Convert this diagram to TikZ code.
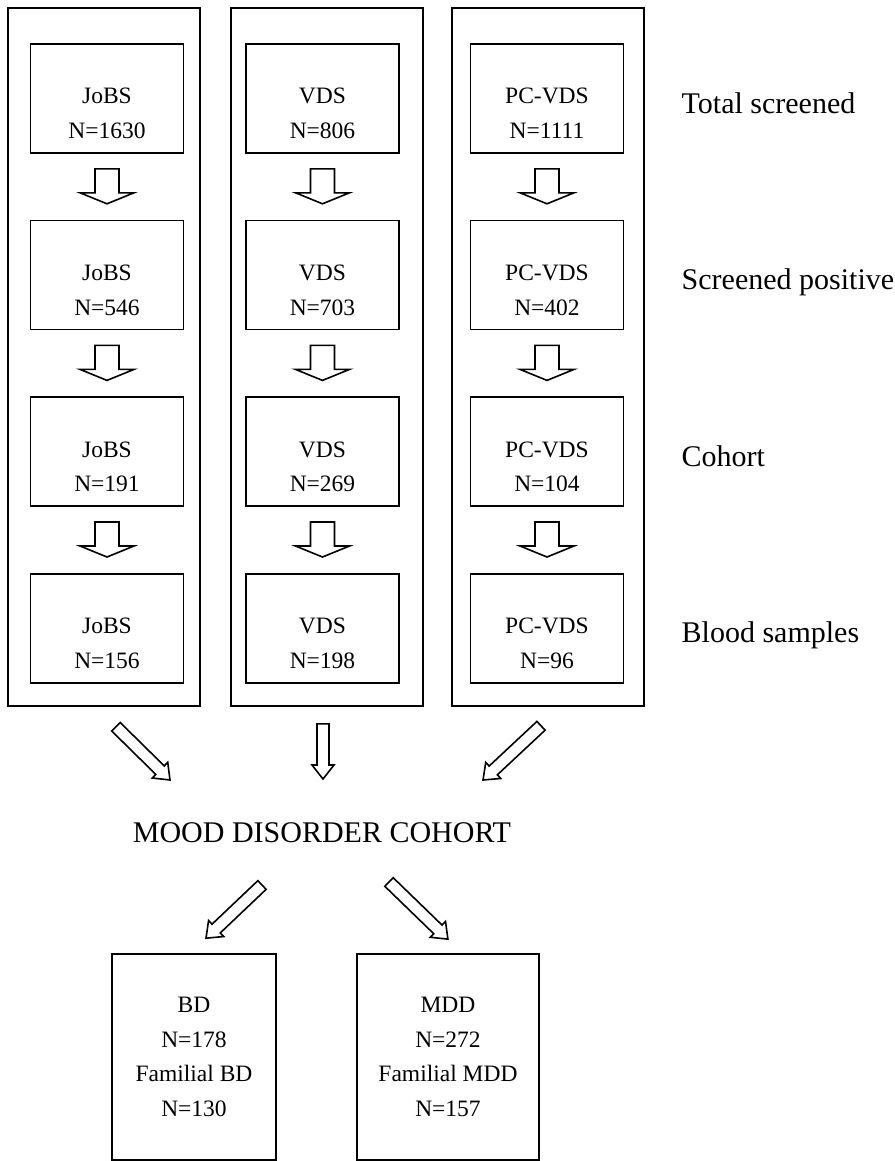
\documentclass[tikz,border=0pt]{standalone}
\usepackage{fontspec}
\setmainfont{Liberation Serif}
\usetikzlibrary{calc,positioning}
\tikzset{
    column-box/.style = {draw, line width=0.8pt, minimum width=96pt, minimum height=349pt, inner sep=0pt},
    stage-box/.style = {draw, line width=0.8pt, minimum width=76.5pt, minimum height=54.5pt, inner sep=0pt, align=center, font=\fontsize{11.75}{17.25}\selectfont},
    group-box/.style = {draw, line width=0.8pt, minimum height=103pt, inner sep=0pt, align=center, font=\fontsize{11.75}{17.25}\selectfont},
    stage-label/.style = {anchor=base west, inner sep=0pt, font=\fontsize{15}{18}\selectfont},
    fat-arrow/.style = {draw, line width=0.8pt, fill=white, line join=miter},
}
\newcommand{\stagetext}[2]{\rule{0pt}{30pt}#1\\#2\rule[-7.25pt]{0pt}{7.25pt}}
\newcommand{\fatarrow}[5]{% shaft, head, head length, from, to
  \draw[fat-arrow] let \p1=(#4), \p2=(#5),
    \n1={atan2(\y2-\y1,\x2-\x1)}, \n2={veclen(\x2-\x1,\y2-\y1)} in
    [shift={(\p1)}, rotate=\n1]
    (0pt,#1) -- ({\n2-#3},#1) -- ({\n2-#3},#2) -- ({\n2*1pt},0pt)
    -- ({\n2-#3},-#2) -- ({\n2-#3},-#1) -- (0pt,-#1) -- cycle;}
\newcommand{\stagearrow}[2]{\fatarrow{6pt}{13.5pt}{5.5pt}{[yshift=-7.5pt]#1.south}{[yshift=8pt]#2.north}}
\newcommand{\bigarrow}[2]{\fatarrow{3pt}{5.5pt}{7pt}{#1}{#2}}

\begin{document}
\begin{tikzpicture}[x=0.5pt, y=-0.5pt]
\useasboundingbox (0,0) rectangle (894,1161);
% the three studies
\node[column-box] (col1) at (104,357) {};
\node[column-box] (col2) at (327,357) {};
\node[column-box] (col3) at (548,357) {};

\node[stage-box] (job1) at (107,98.5) {\stagetext{JoBS}{N=1630}};
\node[stage-box, below=33pt of job1] (job2) {\stagetext{JoBS}{N=546}};
\node[stage-box, below=33pt of job2] (job3) {\stagetext{JoBS}{N=191}};
\node[stage-box, below=33pt of job3] (job4) {\stagetext{JoBS}{N=156}};

\node[stage-box] (vds1) at (322.5,98.5) {\stagetext{VDS}{N=806}};
\node[stage-box, below=33pt of vds1] (vds2) {\stagetext{VDS}{N=703}};
\node[stage-box, below=33pt of vds2] (vds3) {\stagetext{VDS}{N=269}};
\node[stage-box, below=33pt of vds3] (vds4) {\stagetext{VDS}{N=198}};

\node[stage-box] (pcv1) at (547,98.5) {\stagetext{PC-VDS}{N=1111}};
\node[stage-box, below=33pt of pcv1] (pcv2) {\stagetext{PC-VDS}{N=402}};
\node[stage-box, below=33pt of pcv2] (pcv3) {\stagetext{PC-VDS}{N=104}};
\node[stage-box, below=33pt of pcv3] (pcv4) {\stagetext{PC-VDS}{N=96}};

\foreach \c in {job,vds,pcv}
  \foreach \r/\s in {1/2,2/3,3/4}
    \stagearrow{\c\r}{\c\s};

% row labels
\node[stage-label] (lab1) at ([xshift=28.5pt, yshift=-7.25pt]pcv1.east) {Total screened};
\node[stage-label] (lab2) at ([xshift=28.5pt, yshift=-7.25pt]pcv2.east) {Screened positive};
\node[stage-label] (lab3) at ([xshift=28.5pt, yshift=-7.25pt]pcv3.east) {Cohort};
\node[stage-label] (lab4) at ([xshift=28.5pt, yshift=-7.25pt]pcv4.east) {Blood samples};

% merged cohort
\node[anchor=base, font=\fontsize{15}{18}\selectfont] (mdc) at (322,842) {MOOD DISORDER COHORT};
\coordinate (merge1) at (170,780);
\coordinate (merge2) at (323,779);
\coordinate (merge3) at (483,780);
\coordinate (split1) at (262,885);
\coordinate (split2) at (389,882);

\bigarrow{[xshift=6pt, yshift=-10pt]col1.south}{merge1}
\bigarrow{[xshift=-2pt, yshift=-8.5pt]col2.south}{merge2}
\bigarrow{[xshift=-3.5pt, yshift=-9.5pt]col3.south}{merge3}

\node[group-box, minimum width=82pt] (bd) at (194,1057) {BD\\N=178\\Familial BD\\N=130};
\node[group-box, minimum width=91pt] (mdd) at (448,1057) {MDD\\N=272\\Familial MDD\\N=157};

\bigarrow{split1}{[xshift=6pt, yshift=7.5pt]bd.north}
\bigarrow{split2}{[yshift=7pt]mdd.north}
\end{tikzpicture}
\end{document}
